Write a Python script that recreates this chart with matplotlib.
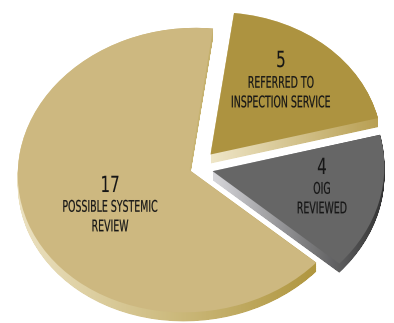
import numpy as np
import matplotlib
matplotlib.use('Agg')
import matplotlib.pyplot as plt
from matplotlib.patches import Wedge, PathPatch
from matplotlib.path import Path
from matplotlib.colors import LinearSegmentedColormap
from matplotlib.transforms import Affine2D
from matplotlib.patheffects import AbstractPathEffect

# data
labels = ['POSSIBLE SYSTEMIC\nREVIEW', 'OIG\nREVIEWED', 'REFERRED TO\nINSPECTION SERVICE']
values = [17, 4, 5]
explode = [0.04, 0.1, 0.125]
top_colors = ['#cdb880', '#666666', '#ad9340']
side_colors = [('#ece2c2', '#b0963f'), ('#d6d6da', '#303030'), ('#efe6c8', '#b89f52')]


class Squeeze(AbstractPathEffect):
    """draw text narrower, each line about its own centre (condensed look)"""
    def __init__(self, sx, lw=0.12):
        super().__init__()
        self.sx = sx
        self.lw = lw

    def draw_path(self, renderer, gc, tpath, affine, rgbFace=None):
        ext = tpath.get_extents(affine)
        xc = (ext.x0 + ext.x1) / 2
        aff = affine + Affine2D().translate(-xc, 0).scale(self.sx, 1).translate(xc, 0)
        gc0 = renderer.new_gc()
        gc0.copy_properties(gc)
        gc0.set_linewidth(self.lw)
        gc0.set_foreground(rgbFace)
        renderer.draw_path(gc0, tpath, aff, rgbFace)
        gc0.restore()


# pixel layout (y up): centre of pie, radii, tilt of the ellipse, thickness
W, H = 394, 323
cx, cy = 196, H - 168
rx, ry = 172, 142
tilt = 5
depth = 9

fig = plt.figure(figsize=(W / 100, H / 100), dpi=100)
ax = fig.add_axes([0, 0, 1, 1])
ax.axis('off')
ax.set_xlim(0, W)
ax.set_ylim(0, H)
ax.set_aspect('auto')

pie = Affine2D().scale(rx, ry).rotate_deg(tilt).translate(cx, cy)

start = 78
total = sum(values)
angle = start
for val, ex, tc, sc in zip(values, explode, top_colors, side_colors):
    span = 360 * val / total
    mid = np.radians(angle + span / 2)
    ox, oy = ex * np.cos(mid), ex * np.sin(mid)
    p = Wedge((ox, oy), 1.0, angle, angle + span).get_path()
    v = pie.transform(p.vertices)
    # side: union of copies shifted down, filled with a gradient
    copies = [Path(v - [0, t], p.codes) for t in np.linspace(depth, 0, 14)]
    clip = PathPatch(Path.make_compound_path(*copies), transform=ax.transData,
                     facecolor='none', edgecolor='none')
    ax.add_patch(clip)
    cmap = LinearSegmentedColormap.from_list('s', list(sc))
    grad = np.linspace(0, 1, 256).reshape(1, -1)
    im = ax.imshow(grad, cmap=cmap, aspect='auto', interpolation='bilinear',
                   extent=(v[:, 0].min(), v[:, 0].max(), 0, H), zorder=1)
    im.set_clip_path(clip)
    ax.add_patch(PathPatch(Path(v, p.codes), facecolor=tc, edgecolor='none', zorder=2))
    angle += span

ax.set_xlim(0, W)
ax.set_ylim(0, H)

txt = [('17', 110, 186, labels[0], 217), ('4', 322, 168, labels[1], 199),
       ('5', 281, 61, labels[2], 93)]
nums, texts = [], []
for num, x, y, lab, y2 in txt:
    nums.append(ax.text(x, H - y, num, ha='center', va='center', fontsize=16,
                        color='#161616', zorder=3))
    texts.append(ax.text(x, H - y2, lab, ha='center', va='center', fontsize=11.5,
                         color='#161616', linespacing=1.38, zorder=3))

# squeeze widths to match the condensed type of the original
fig.canvas.draw()
widest = max(t.get_window_extent().width for t in texts)
for t in texts:
    t.set_path_effects([Squeeze(100 / widest)])
for t in nums:
    t.set_path_effects([Squeeze(0.68, 0.05)])

fig.savefig('out.png', dpi=100)
